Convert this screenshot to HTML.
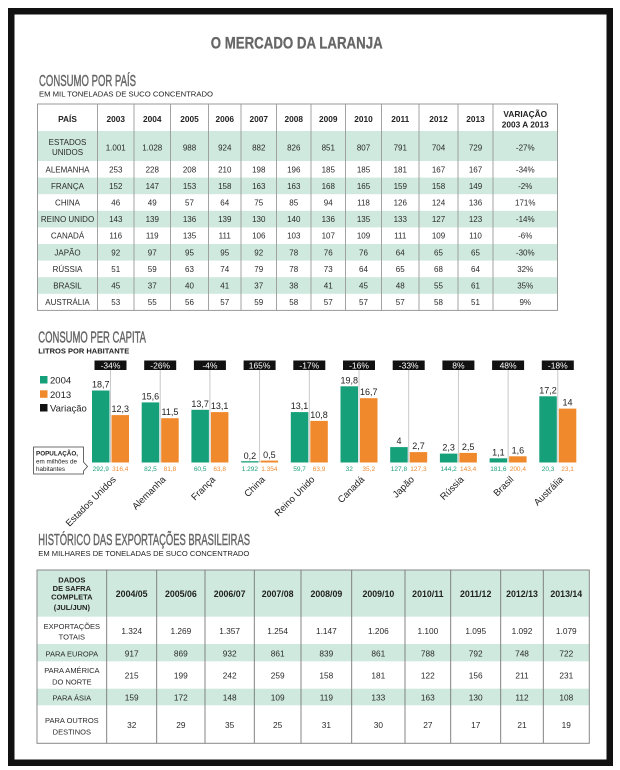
<!DOCTYPE html>
<html><head><meta charset="utf-8"><style>
html,body{margin:0;padding:0;background:#fff;}
svg{display:block;}
text{font-family:"Liberation Sans",sans-serif;}
</style></head><body>
<svg width="620" height="770" viewBox="0 0 620 770" xmlns="http://www.w3.org/2000/svg">
<rect width="620" height="770" fill="#fff"/>
<rect x="11.25" y="11.25" width="598.5" height="751.5" fill="none" stroke="#111" stroke-width="6.5"/>

<!-- Titles -->
<text x="210.7" y="48.3" font-size="17" font-weight="bold" fill="#666" stroke="#666" stroke-width="0.3" textLength="172" lengthAdjust="spacingAndGlyphs">O MERCADO DA LARANJA</text>
<text x="39" y="86" font-size="16" fill="#666" stroke="#666" stroke-width="0.45" textLength="97" lengthAdjust="spacingAndGlyphs">CONSUMO POR PAÍS</text>
<text x="39" y="96.5" font-size="7.5" fill="#222" textLength="174" lengthAdjust="spacingAndGlyphs">EM MIL TONELADAS DE SUCO CONCENTRADO</text>

<!-- Table 1 -->
<g>
<rect x="37.5" y="131" width="520" height="30" fill="#cfe9de"/>
<rect x="37.5" y="177.6" width="520" height="16.6" fill="#cfe9de"/>
<rect x="37.5" y="210.8" width="520" height="16.6" fill="#cfe9de"/>
<rect x="37.5" y="244" width="520" height="16.6" fill="#cfe9de"/>
<rect x="37.5" y="277.2" width="520" height="16.6" fill="#cfe9de"/>
<rect x="37.5" y="104" width="520" height="206.4" fill="none" stroke="#999" stroke-width="1"/>
<g stroke="#999" stroke-width="0.9">
<line x1="97.5" y1="104" x2="97.5" y2="310.4"/>
<line x1="134" y1="104" x2="134" y2="310.4"/>
<line x1="170.5" y1="104" x2="170.5" y2="310.4"/>
<line x1="208.5" y1="104" x2="208.5" y2="310.4"/>
<line x1="241" y1="104" x2="241" y2="310.4"/>
<line x1="276.5" y1="104" x2="276.5" y2="310.4"/>
<line x1="311" y1="104" x2="311" y2="310.4"/>
<line x1="345.5" y1="104" x2="345.5" y2="310.4"/>
<line x1="381.5" y1="104" x2="381.5" y2="310.4"/>
<line x1="419" y1="104" x2="419" y2="310.4"/>
<line x1="458" y1="104" x2="458" y2="310.4"/>
<line x1="493" y1="104" x2="493" y2="310.4"/>
</g>
<g text-anchor="middle" font-size="8.3" font-weight="bold" fill="#222">
<text y="122"><tspan x="67.5">PAÍS</tspan><tspan x="115.75">2003</tspan><tspan x="152.25">2004</tspan><tspan x="189.5">2005</tspan><tspan x="224.75">2006</tspan><tspan x="258.75">2007</tspan><tspan x="293.75">2008</tspan><tspan x="328.25">2009</tspan><tspan x="363.5">2010</tspan><tspan x="400.25">2011</tspan><tspan x="438.5">2012</tspan><tspan x="475.5">2013</tspan></text>
<text x="525.25" y="117">VARIAÇÃO</text>
<text x="525.25" y="127.5">2003 A 2013</text>
</g>
<g text-anchor="middle" font-size="8" fill="#2a2a2a">
<text x="67.5" y="145">ESTADOS</text>
<text x="67.5" y="154.8">UNIDOS</text>
<text y="150.3"><tspan x="115.75">1.001</tspan><tspan x="152.25">1.028</tspan><tspan x="189.5">988</tspan><tspan x="224.75">924</tspan><tspan x="258.75">882</tspan><tspan x="293.75">826</tspan><tspan x="328.25">851</tspan><tspan x="363.5">807</tspan><tspan x="400.25">791</tspan><tspan x="438.5">704</tspan><tspan x="475.5">729</tspan><tspan x="525.25">-27%</tspan></text>
<text y="172.3"><tspan x="67.5">ALEMANHA</tspan><tspan x="115.75">253</tspan><tspan x="152.25">228</tspan><tspan x="189.5">208</tspan><tspan x="224.75">210</tspan><tspan x="258.75">198</tspan><tspan x="293.75">196</tspan><tspan x="328.25">185</tspan><tspan x="363.5">185</tspan><tspan x="400.25">181</tspan><tspan x="438.5">167</tspan><tspan x="475.5">167</tspan><tspan x="525.25">-34%</tspan></text>
<text y="188.9"><tspan x="67.5">FRANÇA</tspan><tspan x="115.75">152</tspan><tspan x="152.25">147</tspan><tspan x="189.5">153</tspan><tspan x="224.75">158</tspan><tspan x="258.75">163</tspan><tspan x="293.75">163</tspan><tspan x="328.25">168</tspan><tspan x="363.5">165</tspan><tspan x="400.25">159</tspan><tspan x="438.5">158</tspan><tspan x="475.5">149</tspan><tspan x="525.25">-2%</tspan></text>
<text y="205.5"><tspan x="67.5">CHINA</tspan><tspan x="115.75">46</tspan><tspan x="152.25">49</tspan><tspan x="189.5">57</tspan><tspan x="224.75">64</tspan><tspan x="258.75">75</tspan><tspan x="293.75">85</tspan><tspan x="328.25">94</tspan><tspan x="363.5">118</tspan><tspan x="400.25">126</tspan><tspan x="438.5">124</tspan><tspan x="475.5">136</tspan><tspan x="525.25">171%</tspan></text>
<text y="222.1"><tspan x="67.5">REINO UNIDO</tspan><tspan x="115.75">143</tspan><tspan x="152.25">139</tspan><tspan x="189.5">136</tspan><tspan x="224.75">139</tspan><tspan x="258.75">130</tspan><tspan x="293.75">140</tspan><tspan x="328.25">136</tspan><tspan x="363.5">135</tspan><tspan x="400.25">133</tspan><tspan x="438.5">127</tspan><tspan x="475.5">123</tspan><tspan x="525.25">-14%</tspan></text>
<text y="238.7"><tspan x="67.5">CANADÁ</tspan><tspan x="115.75">116</tspan><tspan x="152.25">119</tspan><tspan x="189.5">135</tspan><tspan x="224.75">111</tspan><tspan x="258.75">106</tspan><tspan x="293.75">103</tspan><tspan x="328.25">107</tspan><tspan x="363.5">109</tspan><tspan x="400.25">111</tspan><tspan x="438.5">109</tspan><tspan x="475.5">110</tspan><tspan x="525.25">-6%</tspan></text>
<text y="255.3"><tspan x="67.5">JAPÃO</tspan><tspan x="115.75">92</tspan><tspan x="152.25">97</tspan><tspan x="189.5">95</tspan><tspan x="224.75">95</tspan><tspan x="258.75">92</tspan><tspan x="293.75">78</tspan><tspan x="328.25">76</tspan><tspan x="363.5">76</tspan><tspan x="400.25">64</tspan><tspan x="438.5">65</tspan><tspan x="475.5">65</tspan><tspan x="525.25">-30%</tspan></text>
<text y="271.9"><tspan x="67.5">RÚSSIA</tspan><tspan x="115.75">51</tspan><tspan x="152.25">59</tspan><tspan x="189.5">63</tspan><tspan x="224.75">74</tspan><tspan x="258.75">79</tspan><tspan x="293.75">78</tspan><tspan x="328.25">73</tspan><tspan x="363.5">64</tspan><tspan x="400.25">65</tspan><tspan x="438.5">68</tspan><tspan x="475.5">64</tspan><tspan x="525.25">32%</tspan></text>
<text y="288.5"><tspan x="67.5">BRASIL</tspan><tspan x="115.75">45</tspan><tspan x="152.25">37</tspan><tspan x="189.5">40</tspan><tspan x="224.75">41</tspan><tspan x="258.75">37</tspan><tspan x="293.75">38</tspan><tspan x="328.25">41</tspan><tspan x="363.5">45</tspan><tspan x="400.25">48</tspan><tspan x="438.5">55</tspan><tspan x="475.5">61</tspan><tspan x="525.25">35%</tspan></text>
<text y="305.1"><tspan x="67.5">AUSTRÁLIA</tspan><tspan x="115.75">53</tspan><tspan x="152.25">55</tspan><tspan x="189.5">56</tspan><tspan x="224.75">57</tspan><tspan x="258.75">59</tspan><tspan x="293.75">58</tspan><tspan x="328.25">57</tspan><tspan x="363.5">57</tspan><tspan x="400.25">57</tspan><tspan x="438.5">58</tspan><tspan x="475.5">51</tspan><tspan x="525.25">9%</tspan></text>
</g>
</g>

<!-- Per capita chart -->
<text x="38.3" y="342.7" font-size="16" fill="#666" stroke="#666" stroke-width="0.45" textLength="107.7" lengthAdjust="spacingAndGlyphs">CONSUMO PER CAPITA</text>
<text x="38.3" y="353.5" font-size="7.5" font-weight="bold" fill="#222" textLength="91" lengthAdjust="spacingAndGlyphs">LITROS POR HABITANTE</text>

<!-- legend -->
<rect x="40" y="376" width="7.5" height="7.5" fill="#15a07a"/>
<text x="50" y="383.5" font-size="9.5" fill="#222">2004</text>
<rect x="40" y="390.3" width="7.5" height="7.5" fill="#f0892b"/>
<text x="50" y="397.8" font-size="9.5" fill="#222">2013</text>
<rect x="40" y="404" width="7.5" height="7.5" fill="#111"/>
<text x="50" y="411.5" font-size="9.5" fill="#222">Variação</text>

<!-- population box -->
<path d="M33.5,447 H83.5 V462 L87.5,466.5 L83.5,471 V474 H33.5 Z" fill="#fff" stroke="#444" stroke-width="0.8"/>
<text x="36" y="455.5" font-size="6.3" font-weight="bold" fill="#222">POPULAÇÃO,</text>
<text x="36" y="463.5" font-size="6.3" fill="#222">em milhões de</text>
<text x="36" y="471" font-size="6.3" fill="#222">habitantes</text>

<!-- guide lines -->
<g stroke="#c4c4c4" stroke-width="0.9">
<line x1="110.5" y1="370" x2="110.5" y2="462.5"/>
<line x1="160.2" y1="370" x2="160.2" y2="462.5"/>
<line x1="209.9" y1="370" x2="209.9" y2="462.5"/>
<line x1="259.6" y1="370" x2="259.6" y2="462.5"/>
<line x1="309.3" y1="370" x2="309.3" y2="462.5"/>
<line x1="359" y1="370" x2="359" y2="462.5"/>
<line x1="408.7" y1="370" x2="408.7" y2="462.5"/>
<line x1="458.4" y1="370" x2="458.4" y2="462.5"/>
<line x1="508.1" y1="370" x2="508.1" y2="462.5"/>
<line x1="557.8" y1="370" x2="557.8" y2="462.5"/>
</g>

<!-- variation boxes -->
<g fill="#111">
<rect x="94.5" y="360.5" width="32" height="9.5"/>
<rect x="144.2" y="360.5" width="32" height="9.5"/>
<rect x="193.9" y="360.5" width="32" height="9.5"/>
<rect x="243.6" y="360.5" width="32" height="9.5"/>
<rect x="293.3" y="360.5" width="32" height="9.5"/>
<rect x="343" y="360.5" width="32" height="9.5"/>
<rect x="392.7" y="360.5" width="32" height="9.5"/>
<rect x="442.4" y="360.5" width="32" height="9.5"/>
<rect x="492.1" y="360.5" width="32" height="9.5"/>
<rect x="541.8" y="360.5" width="32" height="9.5"/>
</g>
<g fill="#fff" font-size="8.5" text-anchor="middle">
<text y="368.5"><tspan x="110.5">-34%</tspan><tspan x="160.2">-26%</tspan><tspan x="209.9">-4%</tspan><tspan x="259.6">165%</tspan><tspan x="309.3">-17%</tspan><tspan x="359">-16%</tspan><tspan x="408.7">-33%</tspan><tspan x="458.4">8%</tspan><tspan x="508.1">48%</tspan><tspan x="557.8">-18%</tspan></text>
</g>

<!-- bars -->
<g fill="#15a07a">
<rect x="92" y="390.5" width="17.5" height="72"/>
<rect x="141.7" y="402.4" width="17.5" height="60.1"/>
<rect x="191.4" y="409.8" width="17.5" height="52.7"/>
<rect x="241.1" y="461.2" width="17.5" height="1.3"/>
<rect x="290.8" y="412.1" width="17.5" height="50.4"/>
<rect x="340.5" y="386.3" width="17.5" height="76.2"/>
<rect x="390.2" y="447.1" width="17.5" height="15.4"/>
<rect x="439.9" y="453.6" width="17.5" height="8.9"/>
<rect x="489.6" y="458.3" width="17.5" height="4.2"/>
<rect x="539.3" y="396.3" width="17.5" height="66.2"/>
</g>
<g fill="#f0892b">
<rect x="111.5" y="415.1" width="17.5" height="47.4"/>
<rect x="161.2" y="418.2" width="17.5" height="44.3"/>
<rect x="210.9" y="412.1" width="17.5" height="50.4"/>
<rect x="260.6" y="460.6" width="17.5" height="1.9"/>
<rect x="310.3" y="420.9" width="17.5" height="41.6"/>
<rect x="360" y="398.2" width="17.5" height="64.3"/>
<rect x="409.7" y="452.1" width="17.5" height="10.4"/>
<rect x="459.4" y="452.9" width="17.5" height="9.6"/>
<rect x="509.1" y="456.3" width="17.5" height="6.2"/>
<rect x="558.8" y="408.6" width="17.5" height="53.9"/>
</g>

<!-- value labels -->
<g font-size="9" fill="#222" text-anchor="middle">
<text x="100.75" y="387.5">18,7</text>
<text x="120.25" y="412.1">12,3</text>
<text x="150.45" y="399.4">15,6</text>
<text x="169.95" y="415.2">11,5</text>
<text x="200.15" y="406.8">13,7</text>
<text x="219.65" y="409.1">13,1</text>
<text x="249.85" y="459">0,2</text>
<text x="269.35" y="458">0,5</text>
<text x="299.55" y="409.1">13,1</text>
<text x="319.05" y="417.9">10,8</text>
<text x="349.25" y="383.3">19,8</text>
<text x="368.75" y="395.2">16,7</text>
<text x="398.95" y="444.1">4</text>
<text x="418.45" y="449.1">2,7</text>
<text x="448.65" y="450.6">2,3</text>
<text x="468.15" y="449.9">2,5</text>
<text x="498.35" y="455.3">1,1</text>
<text x="517.85" y="453.3">1,6</text>
<text x="548.05" y="393.3">17,2</text>
<text x="567.55" y="405.6">14</text>
</g>

<!-- population numbers -->
<g font-size="6.5" text-anchor="middle">
<text y="471" fill="#1a9e78"><tspan x="100.75">292,9</tspan><tspan x="150.45">82,5</tspan><tspan x="200.15">60,5</tspan><tspan x="249.85">1.292</tspan><tspan x="299.55">59,7</tspan><tspan x="349.25">32</tspan><tspan x="398.95">127,8</tspan><tspan x="448.65">144,2</tspan><tspan x="498.35">181,6</tspan><tspan x="548.05">20,3</tspan></text>
<text y="471" fill="#ee8a30"><tspan x="120.25">316,4</tspan><tspan x="169.95">81,8</tspan><tspan x="219.65">63,8</tspan><tspan x="269.35">1.354</tspan><tspan x="319.05">63,9</tspan><tspan x="368.75">35,2</tspan><tspan x="418.45">127,3</tspan><tspan x="468.15">143,4</tspan><tspan x="517.85">200,4</tspan><tspan x="567.55">23,1</tspan></text>
</g>

<!-- country labels -->
<g font-size="9.5" fill="#222" text-anchor="end">
<text transform="translate(116.5,480) rotate(-45)">Estados Unidos</text>
<text transform="translate(166.2,480) rotate(-45)">Alemanha</text>
<text transform="translate(215.9,480) rotate(-45)">França</text>
<text transform="translate(265.6,480) rotate(-45)">China</text>
<text transform="translate(315.3,480) rotate(-45)">Reino Unido</text>
<text transform="translate(365,480) rotate(-45)">Canadá</text>
<text transform="translate(414.7,480) rotate(-45)">Japão</text>
<text transform="translate(464.4,480) rotate(-45)">Rússia</text>
<text transform="translate(514.1,480) rotate(-45)">Brasil</text>
<text transform="translate(563.8,480) rotate(-45)">Austrália</text>
</g>

<!-- Exports -->
<text x="38.3" y="545" font-size="16" fill="#666" stroke="#666" stroke-width="0.45" textLength="211.7" lengthAdjust="spacingAndGlyphs">HISTÓRICO DAS EXPORTAÇÕES BRASILEIRAS</text>
<text x="38.3" y="556" font-size="7.5" fill="#222" textLength="211" lengthAdjust="spacingAndGlyphs">EM MILHARES DE TONELADAS DE SUCO CONCENTRADO</text>

<g>
<rect x="37" y="570" width="552.3" height="46.7" fill="#cfe9de"/>
<rect x="37" y="644" width="552.3" height="17.3" fill="#cfe9de"/>
<rect x="37" y="688.7" width="552.3" height="16.6" fill="#cfe9de"/>
<rect x="37" y="570" width="552.3" height="173.3" fill="none" stroke="#888" stroke-width="1"/>
<g stroke="#777" stroke-width="0.9">
<line x1="106.7" y1="570" x2="106.7" y2="743.3"/>
<line x1="156.7" y1="570" x2="156.7" y2="743.3"/>
<line x1="205" y1="570" x2="205" y2="743.3"/>
<line x1="254.3" y1="570" x2="254.3" y2="743.3"/>
<line x1="301" y1="570" x2="301" y2="743.3"/>
<line x1="351.7" y1="570" x2="351.7" y2="743.3"/>
<line x1="405" y1="570" x2="405" y2="743.3"/>
<line x1="450.7" y1="570" x2="450.7" y2="743.3"/>
<line x1="500.7" y1="570" x2="500.7" y2="743.3"/>
<line x1="543.3" y1="570" x2="543.3" y2="743.3"/>
</g>
<g text-anchor="middle" font-weight="bold" fill="#222">
<text x="71.85" y="582.3" font-size="7.5">DADOS</text>
<text x="71.85" y="590.8" font-size="7.5">DE SAFRA</text>
<text x="71.85" y="599.3" font-size="7.5">COMPLETA</text>
<text x="71.85" y="610" font-size="7.5">(JUL/JUN)</text>
<text y="597" font-size="8.8"><tspan x="131.7">2004/05</tspan><tspan x="180.85">2005/06</tspan><tspan x="229.65">2006/07</tspan><tspan x="277.65">2007/08</tspan><tspan x="326.35">2008/09</tspan><tspan x="378.35">2009/10</tspan><tspan x="427.85">2010/11</tspan><tspan x="475.7">2011/12</tspan><tspan x="522">2012/13</tspan><tspan x="566.3">2013/14</tspan></text>
</g>
<g text-anchor="middle" fill="#2a2a2a" font-size="7.5">
<text x="71.85" y="629">EXPORTAÇÕES</text>
<text x="71.85" y="639.7">TOTAIS</text>
<text x="71.85" y="656.3">PARA EUROPA</text>
<text x="71.85" y="673">PARA AMÉRICA</text>
<text x="71.85" y="684.3">DO NORTE</text>
<text x="71.85" y="700.3">PARA ÁSIA</text>
<text x="71.85" y="723">PARA OUTROS</text>
<text x="71.85" y="734.3">DESTINOS</text>
</g>
<g text-anchor="middle" fill="#2a2a2a" font-size="8.3">
<text y="634"><tspan x="131.7">1.324</tspan><tspan x="180.85">1.269</tspan><tspan x="229.65">1.357</tspan><tspan x="277.65">1.254</tspan><tspan x="326.35">1.147</tspan><tspan x="378.35">1.206</tspan><tspan x="427.85">1.100</tspan><tspan x="475.7">1.095</tspan><tspan x="522">1.092</tspan><tspan x="566.3">1.079</tspan></text>
<text y="656.3"><tspan x="131.7">917</tspan><tspan x="180.85">869</tspan><tspan x="229.65">932</tspan><tspan x="277.65">861</tspan><tspan x="326.35">839</tspan><tspan x="378.35">861</tspan><tspan x="427.85">788</tspan><tspan x="475.7">792</tspan><tspan x="522">748</tspan><tspan x="566.3">722</tspan></text>
<text y="678.3"><tspan x="131.7">215</tspan><tspan x="180.85">199</tspan><tspan x="229.65">242</tspan><tspan x="277.65">259</tspan><tspan x="326.35">158</tspan><tspan x="378.35">181</tspan><tspan x="427.85">122</tspan><tspan x="475.7">156</tspan><tspan x="522">211</tspan><tspan x="566.3">231</tspan></text>
<text y="700.3"><tspan x="131.7">159</tspan><tspan x="180.85">172</tspan><tspan x="229.65">148</tspan><tspan x="277.65">109</tspan><tspan x="326.35">119</tspan><tspan x="378.35">133</tspan><tspan x="427.85">163</tspan><tspan x="475.7">130</tspan><tspan x="522">112</tspan><tspan x="566.3">108</tspan></text>
<text y="728"><tspan x="131.7">32</tspan><tspan x="180.85">29</tspan><tspan x="229.65">35</tspan><tspan x="277.65">25</tspan><tspan x="326.35">31</tspan><tspan x="378.35">30</tspan><tspan x="427.85">27</tspan><tspan x="475.7">17</tspan><tspan x="522">21</tspan><tspan x="566.3">19</tspan></text>
</g>
</g>
</svg>
</body></html>
